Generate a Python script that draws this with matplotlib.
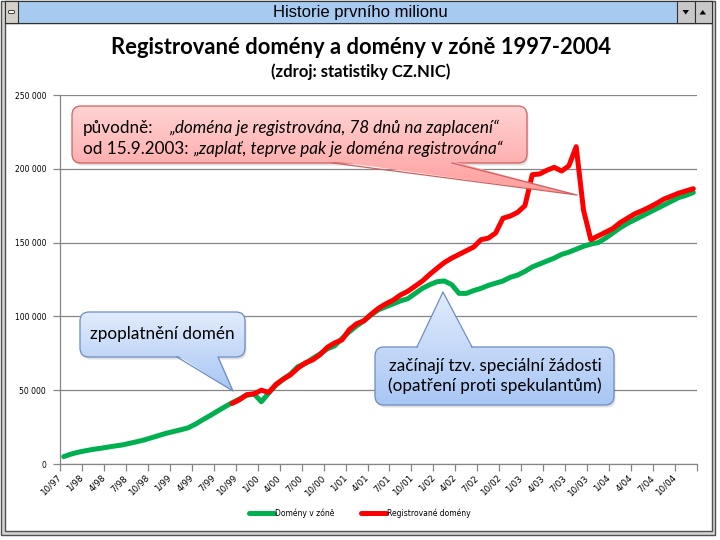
import numpy as np
import matplotlib
matplotlib.use('Agg')
import matplotlib.pyplot as plt
from matplotlib.patches import Rectangle, FancyBboxPatch, Polygon
from matplotlib.ticker import FuncFormatter

# monthly categories 10/97 .. 12/04, labels every 3rd month
tick_labels = ['10/97', '1/98', '4/98', '7/98', '10/98', '1/99', '4/99', '7/99',
               '10/99', '1/00', '4/00', '7/00', '10/00', '1/01', '4/01', '7/01',
               '10/01', '1/02', '4/02', '7/02', '10/02', '1/03', '4/03', '7/03',
               '10/03', '1/04', '4/04', '7/04', '10/04']

domeny_v_zone = [
    5000, 6700, 8000, 9000, 9900, 10600, 11400, 12200, 12900, 14000,
    15100, 16300, 17800, 19300, 20800, 22000, 23200, 24500, 27000, 30000,
    32800, 35800, 38700, 41500, 44000, 46500, 47500, 42200, 48000, 53500,
    57500, 61000, 66000, 68000, 71500, 74500, 78000, 80000, 85000, 89500,
    93500, 97000, 101000, 104500, 106500, 108500, 110500, 112000, 115500, 119000,
    121500, 123500, 124000, 121500, 115600, 115600, 117500, 119000, 121000, 122500,
    124000, 126500, 128000, 130500, 133500, 135500, 137500, 139500, 142000, 143500,
    145500, 147500, 149000, 150000, 153000, 156500, 160000, 163000, 165500, 168000,
    170500, 173000, 175500, 178000, 180500, 182000, 184000]

registrovane = [None] * 23 + [
    41000, 43500, 47000, 47500, 50000, 48500, 54000,
    57500, 60500, 65000, 68500, 70500, 74000, 79000, 82000, 84000, 91000,
    95000, 97000, 101500, 105500, 108500, 111000, 114500, 117000, 120500, 124000,
    128500, 132600, 136500, 139500, 142000, 144500, 147000, 152000, 153000, 156500,
    166500, 168000, 170500, 175000, 196000, 196500, 199000, 201000, 198500, 202000,
    215000, 172000, 152000, 154500, 157000, 159500, 163500, 166500, 169500, 171600,
    174000, 176600, 179500, 181500, 183500, 185000, 186500]

W, H = 720, 540
fig = plt.figure(figsize=(W / 100, H / 100), dpi=100)
fig.patch.set_facecolor('white')

# ---- chart ----
ax = fig.add_axes([60 / W, 1 - 464 / H, 637 / W, 369 / H])
x = np.arange(len(domeny_v_zone))
reg = np.array([np.nan if v is None else v for v in registrovane], dtype=float)
ax.plot(x, domeny_v_zone, color='#00b050', lw=3.6, solid_capstyle='round',
        solid_joinstyle='round', label='Domény v zóně', zorder=3)
ax.plot(x, reg, color='#ff0000', lw=3.6, solid_capstyle='round',
        solid_joinstyle='round', label='Registrované domény', zorder=4)

ax.set_xlim(-0.5, len(x) - 0.5)
ax.set_ylim(0, 250000)
ax.set_yticks(np.arange(0, 250001, 50000))
ax.yaxis.set_major_formatter(FuncFormatter(lambda v, p: f'{int(v):,}'.replace(',', ' ')))
ax.set_xticks(np.arange(-0.5, len(x), 3))
ax.set_xticklabels(tick_labels + [''] * (len(ax.get_xticks()) - len(tick_labels)),
                   rotation=45, ha='right', va='center', rotation_mode='anchor')
ax.tick_params(axis='both', labelsize=5.5, colors='#868686', labelcolor='black',
               length=5, width=0.9, direction='out')
ax.tick_params(axis='x', pad=4, labelsize=6.3)
ax.tick_params(axis='y', pad=5)
ax.yaxis.grid(True, color='#868686', lw=0.9)
ax.set_axisbelow(True)
for s in ['top', 'right']:
    ax.spines[s].set_visible(False)
for s in ['left', 'bottom']:
    ax.spines[s].set_color('#868686')
    ax.spines[s].set_linewidth(0.9)

leg = fig.legend(loc='center', bbox_to_anchor=(0.5, 1 - 513 / H), ncol=2,
                 frameon=False, fontsize=5.5, handlelength=3.3, handletextpad=0.1,
                 columnspacing=3.5)

# ---- overlay in pixel coordinates ----
ov = fig.add_axes([0, 0, 1, 1], zorder=10)
ov.set_xlim(0, W)
ov.set_ylim(H, 0)
ov.axis('off')
ov.patch.set_alpha(0)

# window frame (only border strips, the inside stays clear)
for r in [(1, 1, 4, 534), (711.5, 1, 3.5, 534), (1, 531, 714, 4)]:
    ov.add_patch(Rectangle(r[:2], r[2], r[3], fc='#d4d4d4', ec='none'))
ov.add_patch(Rectangle((1, 1), 714, 534, fc='none', ec='#505050', lw=1))
ov.add_patch(Rectangle((5, 23), 706.5, 508, fc='none', ec='#505050', lw=1))
ov.add_patch(Rectangle((5, 1), 706.5, 22, fc='#a6caf0', ec='#303030', lw=0.8))
ov.add_patch(Rectangle((5, 1), 13, 22, fc='#d4d0c8', ec='#303030', lw=0.8))
ov.add_patch(FancyBboxPatch((8.5, 10.5), 6, 3, boxstyle='round,pad=0,rounding_size=1.2',
                            fc='white', ec='#202020', lw=0.6))
ov.add_patch(Rectangle((677, 1), 17.5, 22, fc='#c8c8c8', ec='#303030', lw=0.8))
ov.add_patch(Rectangle((694.5, 1), 17, 22, fc='#c8c8c8', ec='#303030', lw=0.8))
ov.add_patch(Polygon([(682.5, 10), (689, 10), (685.75, 14.5)], fc='black'))
ov.add_patch(Polygon([(699.5, 14.5), (706, 14.5), (702.75, 10)], fc='black'))
ov.text(W / 2, 12.5, 'Historie prvního milionu', ha='center', va='center',
        fontsize=12, family=['Liberation Sans Narrow', 'Liberation Sans', 'DejaVu Sans'])

title_font = ['Lato', 'DejaVu Sans']
ov.text(361, 47, 'Registrované domény a domény v zóně 1997-2004', ha='center',
        va='center', fontsize=15.8, fontweight='bold', family=title_font)
ov.text(361, 72, '(zdroj: statistiky CZ.NIC)', ha='center', va='center',
        fontsize=12, fontweight='bold', family=title_font)


def callout(x0, y0, x1, y1, bl, br, tip, c_top, c_bot, edge):
    ytop = min(y0, tip[1])
    ybot = max(y1, tip[1])
    grad = np.linspace(0, 1, 200)[:, None]
    ct = np.array(matplotlib.colors.to_rgb(c_top))
    cb = np.array(matplotlib.colors.to_rgb(c_bot))
    img = ct[None, None, :] * (1 - grad[..., None]) + cb[None, None, :] * grad[..., None]
    img = np.repeat(img, 2, axis=1)
    xl, xr = min(x0, tip[0]), max(x1, tip[0])
    # shadow
    ov.add_patch(FancyBboxPatch((x0 + 1.5, y0 + 2.5), x1 - x0, y1 - y0,
                                boxstyle='round,pad=0,rounding_size=9',
                                fc='#000000', ec='none', alpha=0.12, zorder=1))
    box = FancyBboxPatch((x0, y0), x1 - x0, y1 - y0,
                         boxstyle='round,pad=0,rounding_size=9',
                         fc='none', ec=edge, lw=0.9, zorder=3)
    ov.add_patch(box)
    im = ov.imshow(img, extent=[xl, xr, ybot, ytop], origin='upper',
                   aspect='auto', zorder=2, interpolation='bilinear')
    im.set_clip_path(box)
    if tip[1] > y1:
        yb, yin = y1, y1 - 2
    else:
        yb, yin = y0, y0 + 2
    tri = Polygon([(bl, yin), (br, yin), tip], fc='none', ec='none', zorder=4)
    ov.add_patch(tri)
    im2 = ov.imshow(img, extent=[xl, xr, ybot, ytop], origin='upper',
                    aspect='auto', zorder=4, interpolation='bilinear')
    im2.set_clip_path(tri)
    ov.plot([bl, tip[0], br], [yb, tip[1], yb], color=edge, lw=0.9, zorder=5)


txt_font = ['Lato', 'DejaVu Sans']
fs = 12.3
callout(72, 106, 527, 163, 333, 452, (577, 195), '#ffd3d3', '#ff9c9c', '#d06060')
t1 = ov.text(83, 128, 'původně:', va='center', fontsize=fs, family=txt_font, zorder=6)
ov.annotate('„doména je registrována, 78 dnů na zaplacení“', xy=(1, 0.5), xycoords=t1,
            xytext=(16, 0), textcoords='offset pixels', va='center', ha='left',
            fontsize=fs, style='italic', family=txt_font, zorder=6)
t2 = ov.text(83, 149, 'od 15.9.2003:', va='center', fontsize=fs, family=txt_font, zorder=6)
ov.annotate('„zaplať, teprve pak je doména registrována“', xy=(1, 0.5), xycoords=t2,
            xytext=(5, 0), textcoords='offset pixels', va='center', ha='left',
            fontsize=fs, style='italic', family=txt_font, zorder=6)

callout(80, 312, 245, 357, 177, 218, (233, 391), '#e2ecfc', '#a8c6f4', '#6a8cc4')
ov.text(162, 334, 'zpoplatnění domén', ha='center', va='center', fontsize=fs,
        family=txt_font, zorder=6)

callout(375, 347, 614, 405, 417, 472, (443, 292), '#e2ecfc', '#a8c6f4', '#6a8cc4')
ov.text(495, 366, 'začínají tzv. speciální žádosti', ha='center', va='center',
        fontsize=fs, family=txt_font, zorder=6)
ov.text(495, 386, '(opatření proti spekulantům)', ha='center', va='center',
        fontsize=fs, family=txt_font, zorder=6)

ov.set_xlim(0, W)
ov.set_ylim(H, 0)

fig.savefig('out.png', dpi=100)
